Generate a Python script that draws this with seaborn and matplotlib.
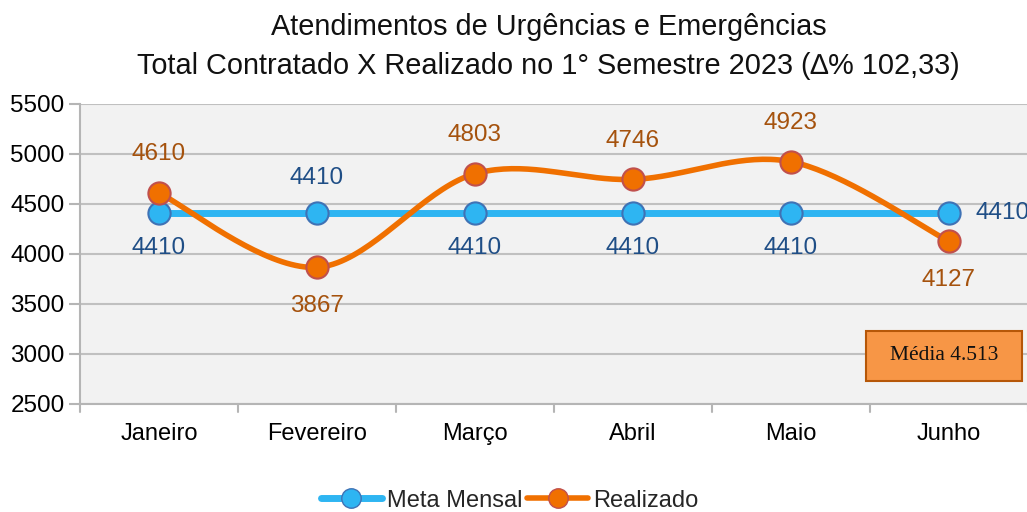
import numpy as np
import pandas as pd
import matplotlib
matplotlib.use("Agg")
import matplotlib.pyplot as plt
from matplotlib.lines import Line2D
from matplotlib.patches import Rectangle
import seaborn as sns

# ---- data ----
months = ["Janeiro", "Fevereiro", "Março", "Abril", "Maio", "Junho"]
meta = [4410, 4410, 4410, 4410, 4410, 4410]
realizado = [4610, 3867, 4803, 4746, 4923, 4127]
yticks = [2500, 3000, 3500, 4000, 4500, 5000, 5500]
title = "Atendimentos de Urgências e Emergências\nTotal Contratado X Realizado no 1° Semestre 2023 (∆% 102,33)"
media_text = "Média 4.513"

# label placement ("above"/"below"/"right")
meta_pos = ["below", "above", "below", "below", "below", "right"]
real_pos = ["above", "below", "above", "above", "above", "below"]

BLUE = "#2eb5f2"
BLUE_EDGE = "#3f72b5"
BLUE_TXT = "#1f4e86"
ORANGE = "#f07000"
ORANGE_EDGE = "#c0504d"
ORANGE_TXT = "#a5520d"

sns.set_theme(style="white")
plt.rcParams["font.family"] = ["Liberation Sans", "DejaVu Sans"]

fig = plt.figure(figsize=(10.27, 5.12), dpi=100)
ax = fig.add_axes([80 / 1027, 1 - 404 / 512, 948 / 1027, 300 / 512])
ax.set_facecolor("#f2f2f2")

x = np.arange(len(months))

# smooth curve (Excel-style Bezier through points)
def smooth(xs, ys, n=40):
    P = np.column_stack([xs, ys]).astype(float)
    out = []
    m = len(P)
    for i in range(m - 1):
        p0 = P[i - 1] if i > 0 else P[i]
        p1 = P[i]
        p2 = P[i + 1]
        p3 = P[i + 2] if i + 2 < m else P[i + 1]
        c1 = p1 + (p2 - p0) / 6
        c2 = p2 - (p3 - p1) / 6
        t = np.linspace(0, 1, n)[:, None]
        seg = (1 - t) ** 3 * p1 + 3 * (1 - t) ** 2 * t * c1 + 3 * (1 - t) * t ** 2 * c2 + t ** 3 * p2
        out.append(seg if i == 0 else seg[1:])
    return np.vstack(out)

df_meta = pd.DataFrame({"x": x, "y": meta})
curve = smooth(x, realizado)
df_curve = pd.DataFrame({"x": curve[:, 0], "y": curve[:, 1]})

sns.lineplot(data=df_meta, x="x", y="y", ax=ax, color=BLUE, linewidth=5, zorder=3,
             marker="o", markersize=16, markerfacecolor=BLUE, markeredgecolor=BLUE_EDGE,
             markeredgewidth=1.5)
sns.lineplot(data=df_curve, x="x", y="y", ax=ax, color=ORANGE, linewidth=4, zorder=4)
ax.plot(x, realizado, linestyle="none", marker="o", markersize=16, markerfacecolor=ORANGE,
        markeredgecolor=ORANGE_EDGE, markeredgewidth=1.5, zorder=5)

def label(xi, yi, txt, pos, color, dist=26):
    if pos == "above":
        off, ha, va = (0, dist), "center", "center"
    elif pos == "below":
        off, ha, va = (0, -dist), "center", "center"
    else:
        off, ha, va = (19, 0), "left", "center"
    ax.annotate(txt, (xi, yi), xytext=off, textcoords="offset points", ha=ha, va=va,
                color=color, fontsize=17.5, zorder=6, annotation_clip=False)

for xi, v, p in zip(x, meta, meta_pos):
    label(xi, v, str(v), p, BLUE_TXT, dist=25)
for xi, v, p in zip(x, realizado, real_pos):
    label(xi, v, str(v), p, ORANGE_TXT, dist=28)

ax.set_xlim(-0.5, 5.5)
ax.set_ylim(2500, 5500)
ax.set_yticks(yticks)
ax.set_yticklabels([str(t) for t in yticks], fontsize=17.5, color="#000000")
ax.set_xticks(x)
ax.set_xticklabels(months, fontsize=17, color="#000000")
ax.set_xlabel("")
ax.set_ylabel("")
ax.grid(axis="y", color="#c0c0c0", linewidth=1.5)
ax.set_axisbelow(True)
for s in ["top", "right"]:
    ax.spines[s].set_visible(False)
ax.spines["left"].set_color("#b5b5b5")
ax.spines["bottom"].set_color("#b5b5b5")
ax.spines["left"].set_linewidth(1.5)
ax.spines["bottom"].set_linewidth(1.5)
ax.tick_params(axis="y", length=8, width=1.5, color="#b5b5b5", pad=3, left=True)
ax.tick_params(axis="x", length=0, pad=14)
# boundary ticks on x axis
for b in np.arange(-0.5, 5.6, 1.0):
    ax.plot([b, b], [0, -0.025], transform=ax.get_xaxis_transform(), color="#b5b5b5",
            linewidth=1.5, clip_on=False)

fig.text(0.534, 1 - 13 / 512, title, ha="center", va="top", fontsize=20.8, color="#111111",
         linespacing=1.5)

# Média box
ax.add_patch(Rectangle((786 / 948, 23 / 300), 156 / 948, 50 / 300, transform=ax.transAxes,
                       facecolor="#f79646", edgecolor="#b65708", linewidth=1.5, zorder=7))
ax.text((786 + 78) / 948, 48 / 300, media_text, transform=ax.transAxes, ha="center", va="center",
        fontsize=15.5, family=["Liberation Serif", "DejaVu Serif"], color="#111111", zorder=8)

handles = [
    Line2D([0], [0], color=BLUE, linewidth=5, marker="o", markersize=14,
           markerfacecolor=BLUE, markeredgecolor=BLUE_EDGE),
    Line2D([0], [0], color=ORANGE, linewidth=4, marker="o", markersize=14,
           markerfacecolor=ORANGE, markeredgecolor=ORANGE_EDGE),
]
fig.legend(handles, ["Meta Mensal", "Realizado"], loc="center", bbox_to_anchor=(0.496, 0.022),
           ncol=2, frameon=False, fontsize=17, handlelength=2.6, columnspacing=0.2,
           handletextpad=0.2, borderaxespad=0)

fig.savefig("out.png", dpi=100, facecolor="white")
